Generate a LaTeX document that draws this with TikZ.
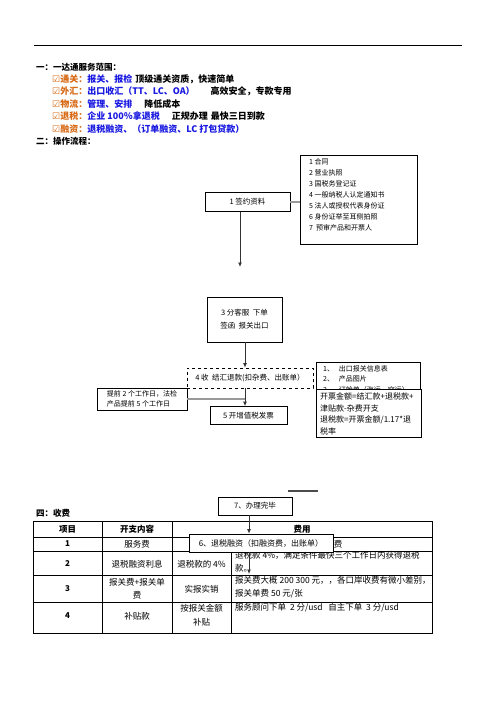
\documentclass[tikz,border=0pt]{standalone}
\usepackage{fontspec}
\setmainfont{Noto Sans CJK SC}
\newfontfamily\sym{DejaVu Sans}
\usetikzlibrary{arrows.meta}
\definecolor{orn}{RGB}{215,105,20}
\definecolor{blu}{RGB}{25,25,225}
\begin{document}
\begin{tikzpicture}[x=1pt,y=-1pt,
  box/.style={draw, line width=0.7pt, fill=white, inner sep=1pt, font=\fontsize{7.5}{12}\selectfont},
  gline/.style={draw=gray!80, line width=2pt},
  arr/.style={draw=black!80, line width=1pt, -{Latex[length=4.5pt,width=4pt]}},
  hd/.style={anchor=west, inner sep=0, font=\fontsize{8.5}{10}\selectfont\bfseries},
  bl/.style={anchor=west, inner sep=0, font=\fontsize{9}{10}\selectfont\bfseries},
  tb/.style={inner sep=0, font=\fontsize{8.5}{12}\selectfont, align=center},
  tbl/.style={inner sep=0, anchor=north west, font=\fontsize{8.5}{13}\selectfont, align=left},
  tn/.style={inner sep=0, font=\fontsize{8}{10}\selectfont\bfseries}
]
\path[use as bounding box, fill=white] (0,0) rectangle (496,702);
% top rule
\coordinate (r1) at (34,45); \coordinate (r2) at (462,45);
\draw[line width=0.9pt] (r1) -- (r2);
% heading lines
\node[hd] (h0) at (36,67) {一：一达通服务范围：};
\node[bl] (h1) at (52,79) {\textcolor{orn}{{\sym ☑}通关：}\textcolor{blu}{报关、报检}\hspace{3pt}顶级通关资质，快速简单};
\node[bl] (h2) at (52,91) {\textcolor{orn}{{\sym ☑}外汇：}\textcolor{blu}{出口收汇（TT、LC、OA）}\hspace{16pt}高效安全，专款专用};
\node[bl] (h3) at (52,104) {\textcolor{orn}{{\sym ☑}物流：}\textcolor{blu}{管理、安排}\hspace{12pt}降低成本};
\node[bl] (h4) at (52,116) {\textcolor{orn}{{\sym ☑}退税：}\textcolor{blu}{企业 100％拿退税}\hspace{12pt}正规办理\hspace{3pt}最快三日到款};
\node[bl] (h5) at (52,129) {\textcolor{orn}{{\sym ☑}融资：}\textcolor{blu}{退税融资、（订单融资、LC 打包贷款）}};
\node[hd] (h6) at (36,141) {二：操作流程：};

% flow boxes
\node[box, minimum width=85pt, minimum height=19pt] (b1) at (247.5,202) {1 签约资料};
\node[box, anchor=north west, minimum width=117pt, minimum height=89pt] (lst) at (300,155) {};
\node[anchor=north west, inner sep=0, align=left, font=\fontsize{7}{11}\selectfont] (lsttxt) at (309,158)
 {1 合同\\2 营业执照\\3 国税务登记证\\4 一般纳税人认定通知书\\5 法人或授权代表身份证\\6 身份证举至耳侧拍照\\7\ \ 预审产品和开票人};
\draw[gline] (b1.east) -- (b1.east -| lst.west);
\coordinate (c1) at (240,267);
\draw[arr] (c1 |- b1.south) -- (c1);

\node[box, minimum width=75pt, minimum height=45pt, align=center, font=\fontsize{7.5}{13}\selectfont] (b3) at (244.5,319.5) {3 分客服\ \ 下单\\签函\ \ 报关出口};
\node[box, dashed, minimum width=126pt, minimum height=20pt] (b4) at (250,378) {4 收\ \ 结汇退款(扣杂费、出账单）};
\coordinate (c2) at (245,0);
\draw[arr] (c2 |- b3.south) -- (c2 |- b4.north);

\node[box, minimum width=90pt, minimum height=22pt, align=left, font=\fontsize{7}{10}\selectfont] (tq) at (142,399) {提前 2 个工作日，法检\\产品提前 5 个工作日};
\node[box, minimum width=77pt, minimum height=18pt] (b5) at (248.5,415.5) {5 开增值税发票};
\draw[gline] (tq.east) -- (tq.east -| c2);
\draw[arr] (c2 |- b4.south) -- (c2 |- b5.north);

\node[box, anchor=north west, minimum width=104pt, minimum height=40pt] (lst2) at (316,362) {};
\node[anchor=north west, inner sep=0, align=left, font=\fontsize{7}{10.5}\selectfont] (lst2txt) at (323,365)
 {1、\ \ \ 出口报关信息表\\2、\ \ \ 产品图片\\3、\ \ \ 订舱单（海运、空运）};
\node[box, anchor=north west, minimum width=105pt, minimum height=48pt] (fm) at (316,389) {};
\node[anchor=north west, inner sep=0, align=left, font=\fontsize{8}{11.5}\selectfont] (fmtxt) at (320,393)
 {开票金额=结汇款+退税款+\\津贴款-杂费开支\\退税款=开票金额/1.17*退\\税率};

% small gray segment
\coordinate (g1) at (288,491); \coordinate (g2) at (318,491);
\draw[line width=1.5pt, gray!60!black] (g1) -- (g2);

% table
\node[hd] (h7) at (36,513) {四：收费};
\draw[line width=0.8pt] (33,521) rectangle (432,633);
\foreach \yy in {537,551,575,602} \draw[line width=0.7pt] (33,\yy) -- (432,\yy);
\draw[line width=0.7pt] (102,521) -- (102,633);
\draw[line width=0.7pt] (172,521) -- (172,633);
\draw[line width=0.7pt] (231,537) -- (231,633);
\node[tn, font=\fontsize{8.5}{10}\selectfont\bfseries] (th1) at (67.5,529) {项目};
\node[tn, font=\fontsize{8.5}{10}\selectfont\bfseries] (th2) at (137,529) {开支内容};
\node[tn, font=\fontsize{8.5}{10}\selectfont\bfseries] (th3) at (302,529) {费用};
\node[tn] (n1) at (67.5,544) {1};
\node[tb] (t11) at (137,544) {服务费};
\node[tb] (t13) at (338,544) {费};
\node[tn] (n2) at (67.5,564) {2};
\node[tb] (t21) at (137,564) {退税融资利息};
\node[tb] (t22) at (201.5,564) {退税款的 4\%};
\node[tbl] (t23) at (235,551.5) {退税款 4\%，满足条件最快三个工作日内获得退税\\款。};
\node[tn] (n3) at (67.5,589) {3};
\node[tb, font=\fontsize{8.5}{13}\selectfont] (t31) at (137,588.5) {报关费+报关单\\费};
\node[tb] (t32) at (201.5,589) {实报实销};
\node[tbl] (t33) at (235,576.5) {报关费大概 200 300 元，，各口岸收费有微小差别，\\报关单费 50 元/张};
\node[tn] (n4) at (67.5,616) {4};
\node[tb] (t41) at (137,616) {补贴款};
\node[tb, font=\fontsize{8.5}{14}\selectfont] (t42) at (201.5,615) {按报关金额\\补贴};
\node[tbl] (t43) at (235,603) {服务顾问下单\ \ 2 分/usd\ \ \ 自主下单\ \ 3 分/usd};

% boxes 7 and 6 over the table
\node[box, minimum width=74pt, minimum height=18pt] (b7) at (255,506) {7、办理完毕};
\node[box, minimum width=144pt, minimum height=18pt, font=\fontsize{8}{12}\selectfont] (b6) at (261,543) {6、退税融资（扣融资费，出账单）};
\coordinate (c3) at (249,574);
\draw[arr] (c3 |- b7.south) -- (c3 |- b6.north);
\draw[arr] (c3 |- b6.south) -- (c3);
\end{tikzpicture}
\end{document}
